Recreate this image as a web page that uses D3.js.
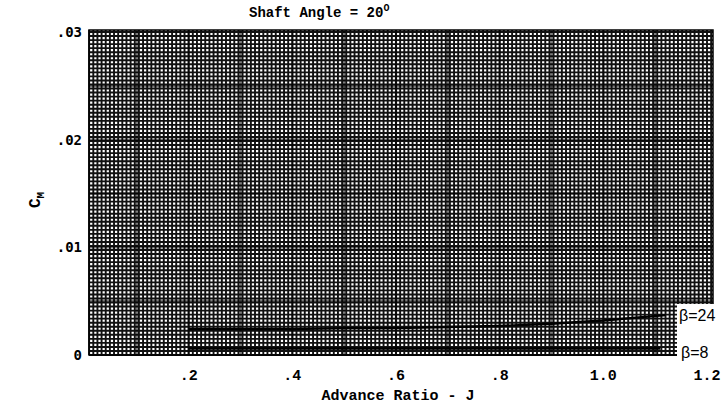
<!DOCTYPE html>
<html><head><meta charset="utf-8">
<script src="https://cdn.jsdelivr.net/npm/d3@7"></script>
<style>body{margin:0;background:#fff}svg{display:block}</style>
</head><body>
<script>
const J = [0.2, 0.3, 0.4, 0.5, 0.6, 0.7, 0.8, 0.9, 1.0, 1.12];
const beta24 = [0.0024, 0.0024, 0.0024, 0.0025, 0.0025, 0.0026, 0.0027, 0.0029, 0.0032, 0.0037];
const J8 = [0.2, 0.4, 0.6, 0.8, 1.0, 1.11];
const beta8 = [0.0006, 0.0006, 0.0006, 0.0006, 0.0006, 0.0006];
const xTicks = [0.2, 0.4, 0.6, 0.8, 1.0, 1.2];
const xTickLabels = [".2", ".4", ".6", ".8", "1.0", "1.2"];
const yTicks = [0, 0.01, 0.02, 0.03];
const yTickLabels = ["0", ".01", ".02", ".03"];
const seriesLabels = ["\u03B2=24", "\u03B2=8"];

const W = 725, H = 406;
const svg = d3.select("body").append("svg").attr("width", W).attr("height", H);
const x = d3.scaleLinear().domain([0, 1.2]).range([85, 707]);
const y = d3.scaleLinear().domain([0, 0.03]).range([355, 32]);
const gx0 = 89, gx1 = 713, gy0 = 30, gy1 = 355;

// graph-paper grid
const g = svg.append("g");
g.append("rect").attr("x", gx0).attr("y", gy0).attr("width", gx1 - gx0).attr("height", gy1 - gy0).attr("fill", "#fff");
const minorX = d3.range(Math.ceil(x.invert(gx0) / 0.008), Math.floor(x.invert(gx1) / 0.008) + 1).map(k => k * 0.008);
const minorY = d3.range(0, Math.floor(y.invert(gy0) / 0.000375) + 1).map(k => k * 0.000375);
g.selectAll(".vx").data(minorX).join("line")
  .attr("x1", d => x(d)).attr("x2", d => x(d)).attr("y1", gy0).attr("y2", gy1)
  .attr("stroke", "#111").attr("stroke-width", 1.9);
g.selectAll(".hy").data(minorY).join("line")
  .attr("y1", d => y(d)).attr("y2", d => y(d)).attr("x1", gx0).attr("x2", gx1)
  .attr("stroke", "#111").attr("stroke-width", 1.9);
// slightly heavier lines
const majX = d3.range(1, 12).map(k => k * 0.1);
const majY = d3.range(1, 6).map(k => k * 0.005);
g.selectAll(".mx").data(majX).join("line")
  .attr("x1", d => x(d)).attr("x2", d => x(d)).attr("y1", gy0).attr("y2", gy1)
  .attr("stroke", "#000").attr("stroke-width", 2.2).attr("opacity", 0.5);
g.selectAll(".my").data(majY).join("line")
  .attr("y1", d => y(d)).attr("y2", d => y(d)).attr("x1", gx0).attr("x2", gx1)
  .attr("stroke", "#000").attr("stroke-width", 2.2).attr("opacity", 0.5);
g.append("rect").attr("x", gx0).attr("y", gy0).attr("width", gx1 - gx0).attr("height", gy1 - gy0)
  .attr("fill", "none").attr("stroke", "#000").attr("stroke-width", 1.5);

// white label box at right
svg.append("rect").attr("x", 677).attr("y", 304).attr("width", 48).attr("height", 60).attr("fill", "#fff");

// curves
const line = d3.line().x(d => x(d[0])).y(d => y(d[1]));
svg.append("path").datum(J.map((j, i) => [j, beta24[i]])).attr("d", line)
  .attr("fill", "none").attr("stroke", "#000").attr("stroke-width", 2.4);
svg.append("path").datum(J8.map((j, i) => [j, beta8[i]])).attr("d", line)
  .attr("fill", "none").attr("stroke", "#000").attr("stroke-width", 2.4);

// series labels
svg.append("text").attr("x", 679).attr("y", y(beta24[beta24.length - 1]) + 6)
  .attr("font-family", "Liberation Sans, Arial, sans-serif").attr("font-size", 16).attr("fill", "#000")
  .text(seriesLabels[0]);
svg.append("text").attr("x", 681).attr("y", y(0) + 3)
  .attr("font-family", "Liberation Sans, Arial, sans-serif").attr("font-size", 16).attr("fill", "#000")
  .text(seriesLabels[1]);

// x tick labels
svg.selectAll(".xt").data(xTicks).join("text")
  .attr("x", d => x(d)).attr("y", 380).attr("text-anchor", "middle")
  .attr("font-family", "Liberation Mono, Courier New, monospace").attr("font-weight", "bold")
  .attr("font-size", 15).attr("fill", "#000")
  .text((d, i) => xTickLabels[i]);
// y tick labels
svg.selectAll(".yt").data(yTicks).join("text")
  .attr("x", 82).attr("y", d => y(d) + 5).attr("text-anchor", "end")
  .attr("font-family", "DejaVu Sans Mono, monospace").attr("font-weight", "bold")
  .attr("font-size", 14).attr("fill", "#000")
  .text((d, i) => yTickLabels[i]);

// axis titles
svg.append("text").attr("x", 398).attr("y", 400).attr("text-anchor", "middle")
  .attr("font-family", "Liberation Mono, Courier New, monospace").attr("font-weight", "bold")
  .attr("font-size", 15).attr("fill", "#000").text("Advance Ratio - J");
const yl = svg.append("text").attr("transform", "translate(40,200) rotate(-90)").attr("text-anchor", "middle")
  .attr("font-family", "Liberation Mono, Courier New, monospace").attr("font-weight", "bold")
  .attr("font-size", 16).attr("fill", "#000");
yl.append("tspan").text("C");
yl.append("tspan").attr("font-size", 11).attr("dy", 4).text("M");

// title
const t = svg.append("text").attr("x", 249).attr("y", 17)
  .attr("font-family", "Liberation Mono, Courier New, monospace").attr("font-weight", "bold")
  .attr("font-size", 14).attr("fill", "#000");
t.append("tspan").text("Shaft Angle = 20");
t.append("tspan").attr("font-size", 10).attr("dy", -6).text("O");
</script>
</body></html>
